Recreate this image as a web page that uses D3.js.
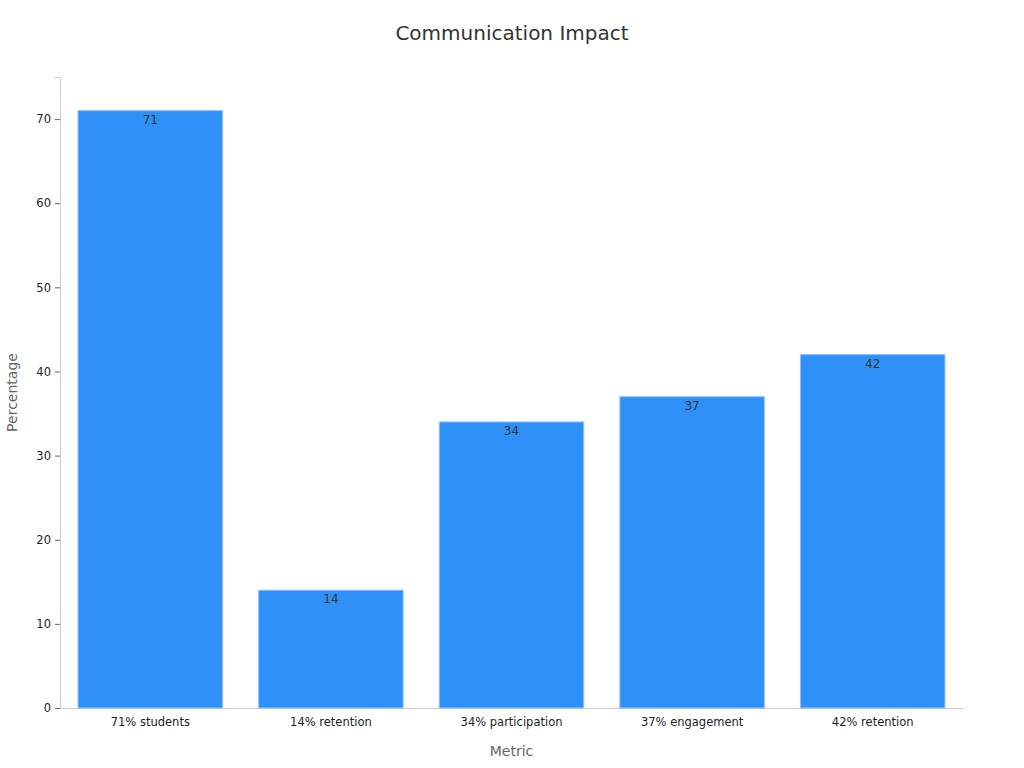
<!DOCTYPE html>
<html><head><meta charset="utf-8">
<script src="https://cdn.jsdelivr.net/npm/d3@7"></script>
<style>body{margin:0;background:#fff;font-family:"DejaVu Sans",sans-serif}</style>
</head><body><svg width="1024" height="768"></svg>
<script>
const categories = ['71% students', '14% retention', '34% participation', '37% engagement', '42% retention']
const values = [71, 14, 34, 37, 42]
const yTicks = [0, 10, 20, 30, 40, 50, 60, 70]

const svg = d3.select('svg')
const margin = {left: 60, right: 61, top: 77, bottom: 60}
const width = 1024, height = 768

const x = d3.scaleBand().domain(categories).range([margin.left, width - margin.right]).paddingInner(0.2).paddingOuter(0.1)
const y = d3.scaleLinear().domain([0, 75]).range([height - margin.bottom, margin.top])

svg.append('text').attr('x', 512).attr('y', 40).attr('text-anchor', 'middle')
    .attr('font-size', 20).attr('fill', '#333').text('Communication Impact')

const xAxis = svg.append('g').attr('transform', `translate(0,${y(0)})`)
    .call(d3.axisBottom(x).tickSize(0).tickPadding(10))
xAxis.attr('font-family', 'DejaVu Sans')
xAxis.select('.domain').attr('stroke', '#ccc')
xAxis.selectAll('text').attr('font-size', 11.5).attr('fill', '#222')

const yAxis = svg.append('g').attr('transform', `translate(${margin.left},0)`)
    .call(d3.axisLeft(y).tickValues(yTicks).tickSize(5).tickPadding(4))
yAxis.attr('font-family', 'DejaVu Sans')
yAxis.select('.domain').attr('stroke', '#ccc')
yAxis.selectAll('.tick line').attr('stroke', '#666')
yAxis.selectAll('text').attr('font-size', 11.5).attr('fill', '#222')

svg.selectAll('rect.bar').data(values).join('rect').attr('class', 'bar')
    .attr('x', (d, i) => x(categories[i])).attr('width', x.bandwidth())
    .attr('y', d => y(d)).attr('height', d => y(0) - y(d))
    .attr('fill', '#2f91f7').attr('stroke', '#8cc2fa').attr('stroke-width', 1)

svg.selectAll('text.val').data(values).join('text').attr('class', 'val')
    .attr('x', (d, i) => x(categories[i]) + x.bandwidth() / 2).attr('y', d => y(d) + 13)
    .attr('text-anchor', 'middle').attr('font-size', 12).attr('fill', '#333').text(d => d)

svg.append('text').attr('x', (margin.left + width - margin.right) / 2).attr('y', 756)
    .attr('text-anchor', 'middle').attr('font-size', 14).attr('fill', '#666').text('Metric')
svg.append('text').attr('transform', `translate(17,${(y(0) + y(75)) / 2}) rotate(-90)`)
    .attr('text-anchor', 'middle').attr('font-size', 14).attr('fill', '#666').text('Percentage')
</script></body></html>
